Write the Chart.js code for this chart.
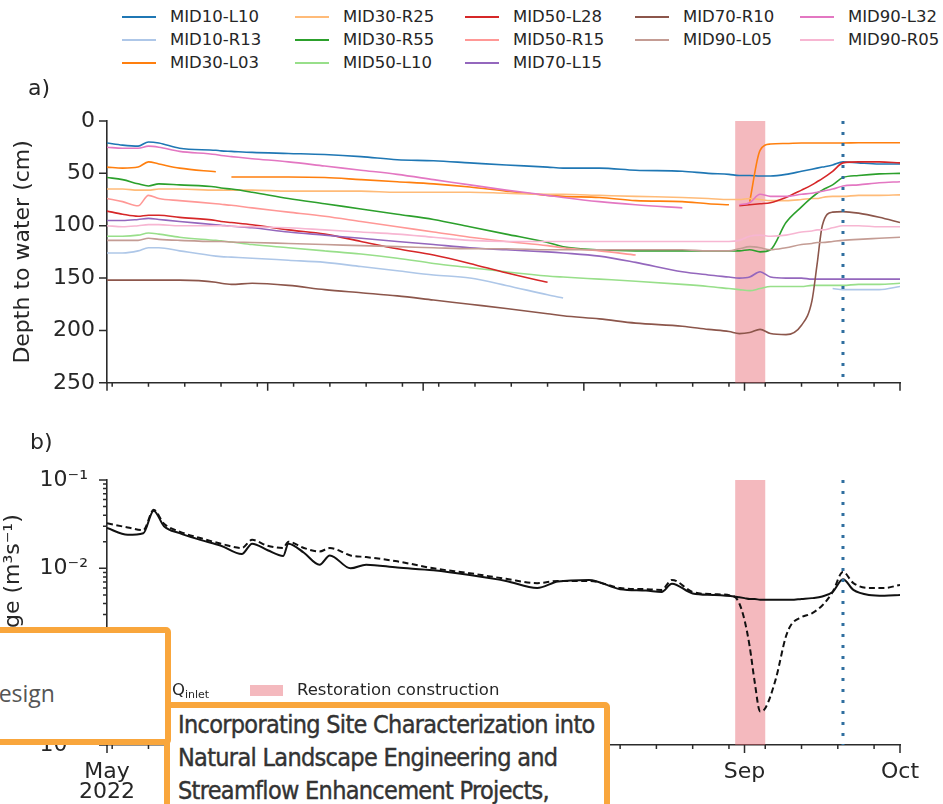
<!DOCTYPE html>
<html>
<head>
<meta charset="utf-8">
<title>Depth to water and discharge, May - Oct 2022</title>
<script src="https://cdn.jsdelivr.net/npm/chart.js@4.4.1/dist/chart.umd.min.js"></script>
<style>
  html, body { margin: 0; padding: 0; background: #fff; }
  #page { position: relative; width: 943px; height: 804px; overflow: hidden;
          font-family: "DejaVu Sans", sans-serif; color: #262626; }
  canvas { position: absolute; left: 0; }
  #chartA { top: 100px; }
  #chartB { top: 400px; }
  .panel { position: absolute; font-size: 22px; line-height: 26px; }
  .leg { position: absolute; font-size: 16.5px; line-height: 20px; white-space: nowrap; }
  .swatch { position: absolute; width: 34px; height: 0; }
  .patch { position: absolute; width: 33px; height: 11px; background: rgba(230,100,110,0.45); }
  .box { position: absolute; background: #fff; border: 6px solid #f9a63c; border-radius: 5px; box-sizing: border-box; }
  #box1 { left: -250px; top: 627px; width: 421px; height: 118px; z-index: 3; }
  #box2 { left: 164px; top: 702px; width: 446px; height: 200px; z-index: 2; }
  #box1 span { position: absolute; left: 226px; top: 44px; font-family: "Open Sans", sans-serif; font-size: 23px; color: #555; }
  #box2 div { position: absolute; left: 8px; top: 0px; width: 440px; font-family: "Liberation Sans Narrow", "DejaVu Sans Condensed", sans-serif;
              font-size: 25px; line-height: 33px; color: #333; white-space: nowrap; letter-spacing: -0.7px;
              -webkit-text-stroke: 0.4px #333; }
  sub { font-size: 11px; vertical-align: -3px; }
</style>
</head>
<body>
<div id="page">
  <canvas id="chartA" width="943" height="300"></canvas>
  <canvas id="chartB" width="943" height="404"></canvas>
  <div class="panel" style="left:28px; top:75px;">a)</div>
  <div class="panel" style="left:30px; top:429px;">b)</div>
  <div id="legendA"></div>
  <div id="legendB"></div>
  <div class="box" id="box2"><div>Incorporating Site Characterization into<br>Natural Landscape Engineering and<br>Streamflow Enhancement Projects,</div></div>
  <div class="box" id="box1"><span>Design</span></div>
</div>

<script>
// ---- shared time axis: days since 1 May 2022 ----
const monthDays = [0, 31, 61, 92, 123, 153];
const monthLabels = [['May', '2022'], 'Jun', 'Jul', 'Aug', 'Sep', 'Oct'];
const mondayDays = [1, 8, 15, 22, 29, 36, 43, 50, 57, 64, 71, 78, 85, 99, 106, 113, 120, 127, 134, 141, 148];
const constructionStart = 121.2;
const constructionEnd = 127;
const eventDay = 142;

// ---- panel a: depth to water (cm) ----
const days = [0, 3, 6, 8, 10, 14, 21, 22, 24, 28, 35, 42, 49, 56, 63, 70, 77, 85, 88, 95, 102, 111, 116, 120, 122, 124, 126, 128, 131, 134, 136, 137, 138, 140, 142, 145, 149, 153];

const MID10_L10 = [21, 23, 24, 20, 21, 26, 28, 28.5, 29, 30, 31, 32, 34, 37, 38, 40, 42, 44, 45, 45, 47, 48, 50, 51, 52, 52, 52.5, 52.5, 51, 48, 46, 45, 44, 42, 39, 40, 41, 41];
const MID10_R13 = [126, 126, 124, 121, 121, 124, 129, 129.5, 130, 131, 133, 135, 139, 143, 147, 150, 157, 166, 169, null, null, null, null, null, null, null, null, null, null, null, null, null, null, 160, 161, 161, 161, 158];
const MID30_L03 = [44, 45, 44, 39, 41, 45, 48.5, null, 53.5, 53.5, 53.5, 54, 56, 58, 60, 63, 67, 71, 72, 73, 76, 77, 79, 80, null, 77, 28, 22, 21.5, 21, 21, 21, 21, 21, 21, 20.7, 20.7, 20.7];
const MID30_R25 = [65, 65, 66, 66, 65, 65, 66, 66, 66, 66, 67, 67, 67, 68, 68, 68, 69, 70, 70, 71, 72, 73, 74, 75, 75, 74, 75, 76, 76, 75, 74, 74, 73, 72, 72, 71, 71, 70.5];
const MID30_R55 = [54, 56, 60, 62, 60, 61, 63, 64, 65, 68, 74, 79, 84, 89, 94, 101, 108, 116, 120, 123, 124, 124, 124, 124, 124, 123, 125, 123, 97, 82, 73, 69, 66, 61, 54, 52, 50.5, 50];
const MID50_L10 = [110, 110, 109, 107, 108, 111, 114, 114.5, 115.5, 118, 121, 124, 127, 131, 136, 140, 144, 148, 149, 151, 153, 156, 158, 160, 161, 162, 160, 158, 158, 158, 157, 157, 157, 157, 157, 156, 156, 155];
const MID50_L28 = [86, 89, 91, 90, 90, 92, 95, 96, 97, 99, 104, 108, 115, 122, 128, 136, 145, 154, null, null, null, null, null, null, 81, 80, 79, 78, 73, 66, 61, 58, 55, 48, 40, 39, 39, 40];
const MID50_R15 = [74, 77, 81, 71, 74, 76, 79, 79.5, 80.5, 83, 87, 91, 96, 101, 106, 111, 115, 119, 121, 124, 128, null, null, null, null, null, null, null, null, null, null, null, null, null, null, null, null, null];
const MID70_L15 = [95, 95, 94, 93, 94, 96, 99, 99.5, 100.5, 102, 106, 109, 112, 115, 118, 121, 123, 125, 126, 129, 135, 144, 147, 149, 150, 149, 144, 149, 150, 150, 151, 151, 151, 151, 151, 151, 151, 151];
const MID70_R10 = [152, 152, 152, 152, 152, 152, 154, 155, 156, 155, 157, 161, 164, 167, 171, 175, 179, 184, 186, 189, 193, 196, 199, 201, 203, 202, 199, 203, 204, 195, 172, 137, 100, 87, 86.5, 88, 92, 97];
const MID90_L05 = [114, 114, 114, 112, 113, 114, 115, 115, 115.5, 116, 117, 118, 119, 120, 121, 122, 122, 123, 123, 123, 123, 123, 124, 124, 122, 120, 121, 123, 121, 118, 117, 116, 116, 115, 114, 113, 112, 111];
const MID90_L32 = [25, 26, 26, 24, 25, 29, 32, 33, 34, 36, 39, 43, 47, 51, 56, 61, 66, 71, 73, 77, 80, 83, null, null, 80, 78, 70, 72, 72, 70, 69, 68, 67, 65, 62, 61, 59, 58];
const MID90_R05 = [100, 101, 100, 99, 99, 100, 100, 100, 100.5, 101, 102, 104, 106, 108, 111, 114, 115, 115, 115, 115, 115, 115, 115, 115, 114, 110, 109, 110, 109, 106, 105, 104, 104, 102, 100, 100, 101, 101];

const wellNames = ['MID10-L10', 'MID10-R13', 'MID30-L03', 'MID30-R25', 'MID30-R55', 'MID50-L10', 'MID50-L28',
                   'MID50-R15', 'MID70-L15', 'MID70-R10', 'MID90-L05', 'MID90-L32', 'MID90-R05'];
const wellColors = ['#1f77b4', '#aec7e8', '#ff7f0e', '#ffbb78', '#2ca02c', '#98df8a', '#d62728',
                    '#ff9896', '#9467bd', '#8c564b', '#c49c94', '#e377c2', '#f7b6d2'];
const wellDepths = [MID10_L10, MID10_R13, MID30_L03, MID30_R25, MID30_R55, MID50_L10, MID50_L28,
                    MID50_R15, MID70_L15, MID70_R10, MID90_L05, MID90_L32, MID90_R05];

// ---- panel b: discharge (m3/s) ----
const qDays = [0, 4, 7, 9, 11, 14, 18, 22, 26, 28, 31, 34, 35, 38, 41, 43, 47, 50, 56, 63, 70, 77, 83, 87, 93, 99, 104, 107, 109, 113,
               117, 121, 122, 123, 124, 125, 126, 127, 129, 131, 132, 134, 136, 138, 140, 142, 144, 147, 150, 153];
const qOutlet = [0.0286, 0.024, 0.025, 0.045, 0.030, 0.025, 0.021, 0.018, 0.0145, 0.019,
                 0.016, 0.0138, 0.019, 0.015, 0.011, 0.014, 0.010, 0.011, 0.0102, 0.0095,
                 0.0084, 0.0072, 0.006, 0.0071, 0.0074, 0.0058, 0.0056, 0.0054, 0.0067, 0.0052,
                 0.005, 0.0048, 0.0047, 0.0046, 0.0045, 0.0045, 0.0044, 0.0044, 0.0044, 0.0044,
                 0.0044, 0.0045, 0.0046, 0.0048, 0.0054, 0.0075, 0.0057, 0.005, 0.0049, 0.005];
const qInlet = [0.0324, 0.029, 0.027, 0.046, 0.032, 0.026, 0.022, 0.019, 0.017, 0.021,
                0.018, 0.017, 0.020, 0.017, 0.0155, 0.017, 0.014, 0.0134, 0.012, 0.010,
                0.0088, 0.0076, 0.0068, 0.0072, 0.0072, 0.006, 0.0058, 0.0057, 0.0074, 0.0054,
                0.0051, 0.0048, 0.0040, 0.0026, 0.0013, 0.0005, 0.00024, 0.00026, 0.00055, 0.0017,
                0.0023, 0.0028, 0.0031, 0.0038, 0.0054, 0.0091, 0.0068, 0.006, 0.006, 0.0065];
const qDecades = [1e-4, 1e-3, 1e-2, 1e-1];
const qDecadeLabels = ['10\u207B\u2074', '10\u207B\u00B3', '10\u207B\u00B2', '10\u207B\u00B9'];

const axisColor = '#2b2b2b';
Chart.defaults.font.family = 'DejaVu Sans';
Chart.defaults.color = '#262626';

// tick marks drawn outward, major and minor, like the original figure
const axisTicks = {
    id: 'axisTicks',
    afterDraw(chart, args, opts) {
        const {ctx, chartArea, scales} = chart;
        ctx.save();
        ctx.strokeStyle = axisColor;
        ctx.lineWidth = 1.5;
        ctx.beginPath();
        const mark = (list, len, horiz) => list.forEach(v => {
            if (horiz) {
                const px = scales.x.getPixelForValue(v);
                ctx.moveTo(px, chartArea.bottom);
                ctx.lineTo(px, chartArea.bottom + len);
            } else {
                const py = scales.y.getPixelForValue(v);
                ctx.moveTo(chartArea.left, py);
                ctx.lineTo(chartArea.left - len, py);
            }
        });
        mark(monthDays, 8, true);
        mark(mondayDays, 4, true);
        mark(opts.yMajor || [], 8, false);
        mark(opts.yMinor || [], 4, false);
        ctx.stroke();
        ctx.restore();
    }
};

// restoration construction band and the dotted event line
const events = {
    id: 'events',
    beforeDatasetsDraw(chart) {
        const {ctx, chartArea, scales} = chart;
        const x0 = scales.x.getPixelForValue(constructionStart);
        const x1 = scales.x.getPixelForValue(constructionEnd);
        ctx.save();
        ctx.fillStyle = 'rgba(230,100,110,0.45)';
        ctx.fillRect(x0, chartArea.top, x1 - x0, chartArea.bottom - chartArea.top);
        ctx.restore();
    },
    afterDatasetsDraw(chart) {
        const {ctx, chartArea, scales} = chart;
        const x = scales.x.getPixelForValue(eventDay);
        ctx.save();
        ctx.strokeStyle = '#2f6e9f';
        ctx.lineWidth = 3;
        ctx.setLineDash([3, 8]);
        ctx.beginPath();
        ctx.moveTo(x, chartArea.top);
        ctx.lineTo(x, chartArea.bottom);
        ctx.stroke();
        ctx.restore();
    }
};

function timeAxis(showLabels, height) {
    return {
        type: 'linear', min: 0, max: 153,
        grid: { display: false, drawTicks: true, tickLength: 8 },
        border: { color: axisColor, width: 1.6 },
        afterBuildTicks: s => { s.ticks = monthDays.map(v => ({ value: v })); },
        ticks: {
            display: showLabels, autoSkip: false, maxRotation: 0, padding: 10,
            font: { size: 22, lineHeight: 0.88 },
            callback: (v, i) => monthLabels[i]
        },
        afterFit: s => { s.height = height; }
    };
}

new Chart(document.getElementById('chartA'), {
    type: 'line',
    data: {
        datasets: wellNames.map((name, i) => ({
            label: name,
            data: days.map((d, j) => ({ x: d, y: wellDepths[i][j] })),
            borderColor: wellColors[i],
            borderWidth: 1.6,
            pointRadius: 0,
            cubicInterpolationMode: 'monotone',
            spanGaps: false,
            order: -i
        }))
    },
    options: {
        responsive: false,
        animation: false,
        layout: { padding: { top: 21, right: 43, left: 0, bottom: 0 } },
        plugins: {
            legend: { display: false },
            tooltip: { enabled: false },
            axisTicks: { yMajor: [0, 50, 100, 150, 200, 250] }
        },
        scales: {
            x: timeAxis(false, 13),
            y: {
                reverse: true, min: 0, max: 250,
                grid: { display: false, drawTicks: true, tickLength: 8 },
                border: { color: axisColor, width: 1.6 },
                ticks: { stepSize: 50, padding: 4, font: { size: 22 } },
                title: { display: true, text: 'Depth to water (cm)', font: { size: 22 }, padding: { top: 10, bottom: 0 } },
                afterFit: s => { s.width = 107; }
            }
        }
    },
    plugins: [axisTicks, events]
});

const qMinor = [];
[-4, -3, -2].forEach(e => { for (let m = 2; m <= 9; m++) qMinor.push(m * Math.pow(10, e)); });

new Chart(document.getElementById('chartB'), {
    type: 'line',
    data: {
        datasets: [
            { label: 'Q outlet', data: qDays.map((d, j) => ({ x: d, y: qOutlet[j] })),
              borderColor: '#111', borderWidth: 2, pointRadius: 0, cubicInterpolationMode: 'monotone' },
            { label: 'Q inlet', data: qDays.map((d, j) => ({ x: d, y: qInlet[j] })),
              borderColor: '#111', borderWidth: 2, borderDash: [6, 3.5], pointRadius: 0, cubicInterpolationMode: 'monotone' }
        ]
    },
    options: {
        responsive: false,
        animation: false,
        layout: { padding: { top: 80, right: 43, left: 0, bottom: 0 } },
        plugins: {
            legend: { display: false },
            tooltip: { enabled: false },
            axisTicks: { yMajor: qDecades, yMinor: qMinor }
        },
        scales: {
            x: timeAxis(true, 59),
            y: {
                type: 'logarithmic', min: 1e-4, max: 1e-1,
                grid: { display: false, drawTicks: true, tickLength: 8 },
                border: { color: axisColor, width: 1.6 },
                afterBuildTicks: s => { s.ticks = qDecades.map(v => ({ value: v })); },
                ticks: { autoSkip: false, padding: 11, font: { size: 22 }, callback: (v, i) => qDecadeLabels[i] },
                title: { display: true, text: 'Discharge (m\u00B3s\u207B\u00B9)', font: { size: 22 }, padding: { top: 0, bottom: 0 } },
                afterFit: s => { s.width = 107; }
            }
        }
    },
    plugins: [axisTicks, events]
});

// legend for panel a: 5 columns, filled column by column (3,3,3,2,2)
const legendCols = [122, 295, 465, 635, 800];
const legendRows = [17, 40, 63];
const colStart = [0, 3, 6, 9, 11];
const legendA = document.getElementById('legendA');
wellNames.forEach((name, i) => {
    let c = 0;
    while (c + 1 < colStart.length && i >= colStart[c + 1]) c++;
    const r = i - colStart[c];
    const sw = document.createElement('div');
    sw.className = 'swatch';
    sw.style.left = legendCols[c] + 'px';
    sw.style.top = (legendRows[r] - 1) + 'px';
    sw.style.borderTop = '2px solid ' + wellColors[i];
    legendA.appendChild(sw);
    const t = document.createElement('div');
    t.className = 'leg';
    t.style.left = (legendCols[c] + 48) + 'px';
    t.style.top = (legendRows[r] - 10) + 'px';
    t.textContent = name;
    legendA.appendChild(t);
});

// legend for panel b (first entries sit behind the overlay box)
document.getElementById('legendB').innerHTML =
    '<div class="swatch" style="left:10px;top:689px;border-top:2px solid #111"></div>' +
    '<div class="leg" style="left:56px;top:680px">Q<sub>outlet</sub></div>' +
    '<div class="swatch" style="left:126px;top:689px;border-top:2px dashed #111"></div>' +
    '<div class="leg" style="left:172px;top:680px">Q<sub>inlet</sub></div>' +
    '<div class="patch" style="left:250px;top:685px"></div>' +
    '<div class="leg" style="left:297px;top:680px">Restoration construction</div>';
</script>
</body>
</html>
